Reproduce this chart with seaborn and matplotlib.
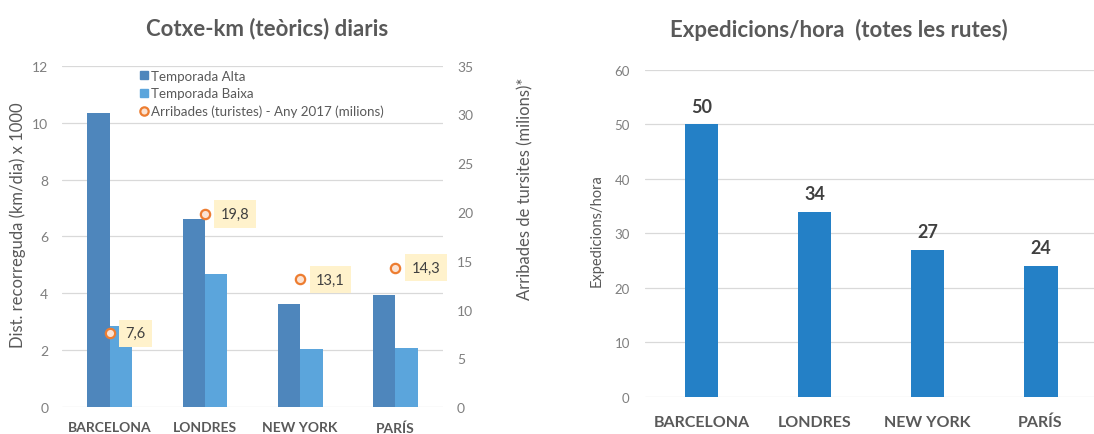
import matplotlib
matplotlib.use("Agg")
import matplotlib.pyplot as plt
from matplotlib.lines import Line2D
import numpy as np
import pandas as pd
import seaborn as sns

# --- data -------------------------------------------------------------
cities = ["BARCELONA", "LONDRES", "NEW YORK", "PARÍS"]
km_alta = [10.35, 6.6, 3.62, 3.93]        # Temporada Alta, km/dia x 1000
km_baixa = [2.84, 4.67, 2.04, 2.08]       # Temporada Baixa, km/dia x 1000
arribades = [7.6, 19.8, 13.1, 14.3]       # turistes 2017, milions
expedicions = [50, 34, 27, 24]            # expedicions per hora

season_names = ["Temporada Alta", "Temporada Baixa"]
arribades_name = "Arribades (turistes) - Any 2017 (milions)"

left_ticks = [0, 2, 4, 6, 8, 10, 12]
right_ticks = [0, 5, 10, 15, 20, 25, 30, 35]
exp_ticks = [0, 10, 20, 30, 40, 50, 60]

# --- style ------------------------------------------------------------
C_ALTA = "#4E86BC"
C_BAIXA = "#5BA5DC"
C_EXP = "#2480C6"
C_ORANGE = "#ED7D31"
TXT = "#595959"
TICK = "#7F7F7F"
GRID = "#D9D9D9"

sns.set_theme(style="white")
plt.rcParams["font.family"] = ["Lato", "DejaVu Sans"]

fig = plt.figure(figsize=(10.94, 4.35), dpi=100)

# --- left chart: car-km per day + tourist arrivals ------------------
ax1 = fig.add_axes([0.0567, 0.0614, 0.3483, 0.7853])
df_km = pd.DataFrame({
    "ciutat": cities * 2,
    "km": km_alta + km_baixa,
    "temporada": [season_names[0]] * 4 + [season_names[1]] * 4,
})
sns.barplot(data=df_km, x="ciutat", y="km", hue="temporada",
            palette=[C_ALTA, C_BAIXA], width=0.47, gap=0, saturation=1,
            linewidth=0, legend=False, ax=ax1)
ax1.set_ylim(0, 12)
ax1.set_xlim(-0.5, 3.5)
ax1.set_yticks(left_ticks)
ax1.set_yticklabels([str(t) for t in left_ticks])
ax1.yaxis.grid(True, color=GRID, linewidth=0.9)
ax1.set_axisbelow(True)
for s in ax1.spines.values():
    s.set_visible(False)
ax1.tick_params(axis="y", length=0, pad=10, labelsize=10, labelcolor=TICK)
ax1.tick_params(axis="x", length=0, pad=10, labelsize=10, labelcolor=TXT)
for lab in ax1.get_xticklabels():
    lab.set_fontweight("bold")
ax1.set_xlabel("")
ax1.set_ylabel("Dist. recorreguda (km/dia) x 1000", fontsize=12, color=TXT)
ax1.yaxis.set_label_coords(-0.095, 0.535)

ax2 = ax1.twinx()
xpos = np.arange(len(cities))
sns.scatterplot(x=xpos, y=arribades, ax=ax2, marker="o", s=45,
                facecolor="#FBE3D3", edgecolor=C_ORANGE, linewidth=1.6,
                zorder=5)
ax2.set_ylim(0, 35)
ax2.set_xlim(-0.5, 3.5)
ax2.set_yticks(right_ticks)
ax2.set_yticklabels([str(t) for t in right_ticks])
for s in ax2.spines.values():
    s.set_visible(False)
ax2.tick_params(axis="y", length=0, pad=10, labelsize=10, labelcolor=TICK)
ax2.set_ylabel("Arribades de tursites (milions)*", fontsize=12, color=TXT)
ax2.yaxis.set_label_coords(1.195, 0.643)
ax2.set_xlabel("")

for x, v in zip(xpos, arribades):
    ax2.annotate(f"{v:.1f}".replace(".", ","), (x, v),
                 xytext=(11.5, 0), textcoords="offset points",
                 ha="left", va="center", fontsize=10.5, color="#404040",
                 bbox=dict(boxstyle="square,pad=0.45", fc="#FFF2CC", ec="none"),
                 zorder=6)

handles = [
    Line2D([], [], marker="s", linestyle="none", markersize=6,
           markerfacecolor=C_ALTA, markeredgecolor=C_ALTA),
    Line2D([], [], marker="s", linestyle="none", markersize=6,
           markerfacecolor=C_BAIXA, markeredgecolor=C_BAIXA),
    Line2D([], [], marker="o", linestyle="none", markersize=6,
           markerfacecolor="#FBE3D3", markeredgecolor=C_ORANGE,
           markeredgewidth=1.6),
]
ax2.legend(handles, season_names + [arribades_name], loc="upper left",
           bbox_to_anchor=(0.122, 0.852), bbox_transform=fig.transFigure,
           frameon=False, fontsize=9.6, handlelength=0.6,
           handletextpad=0.25, labelspacing=0.4, borderpad=0,
           labelcolor=TXT)

fig.text(0.2445, 0.935, "Cotxe-km (teòrics) diaris", ha="center",
         va="center", fontsize=16, fontweight="bold", color=TXT)

# --- right chart: departures per hour --------------------------------
ax3 = fig.add_axes([0.5896, 0.0857, 0.4132, 0.7511])
sns.barplot(x=cities, y=expedicions, color=C_EXP, width=0.3, saturation=1,
            linewidth=0, ax=ax3)
ax3.set_ylim(0, 60)
ax3.set_xlim(-0.5, 3.5)
ax3.set_yticks(exp_ticks)
ax3.set_yticklabels([str(t) for t in exp_ticks])
ax3.yaxis.grid(True, color=GRID, linewidth=0.9)
ax3.set_axisbelow(True)
for s in ax3.spines.values():
    s.set_visible(False)
ax3.tick_params(axis="y", length=0, pad=11, labelsize=9.5, labelcolor=TICK)
ax3.tick_params(axis="x", length=0, pad=13, labelsize=11.5, labelcolor=TXT)
for lab in ax3.get_xticklabels():
    lab.set_fontweight("bold")
ax3.set_ylabel("Expedicions/hora", fontsize=10.5, color=TXT)
ax3.yaxis.set_label_coords(-0.091, 0.513)
ax3.bar_label(ax3.containers[0], labels=[str(v) for v in expedicions],
              padding=7, fontsize=13, fontweight="bold", color="#404040")

fig.text(0.767, 0.93, "Expedicions/hora  (totes les rutes)", ha="center",
         va="center", fontsize=16, fontweight="bold", color=TXT)

fig.savefig("out.png", dpi=100, facecolor="white")
